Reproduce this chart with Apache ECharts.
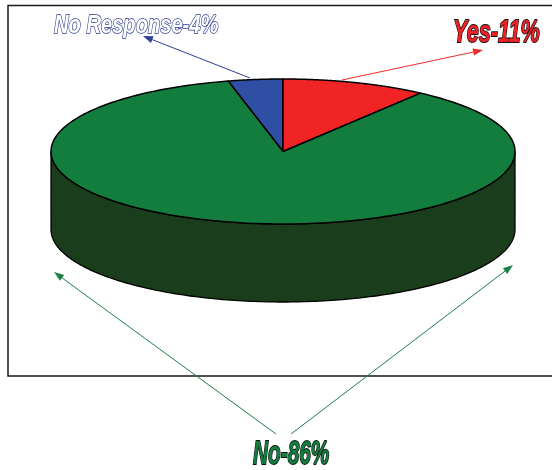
<!DOCTYPE html>
<html><head><meta charset="utf-8">
<style>html,body{margin:0;padding:0;background:#fff}#c{width:552px;height:470px}</style>
<script src="https://cdn.jsdelivr.net/npm/echarts@6/dist/echarts.min.js"></script>
</head><body><div id="c"></div>
<script>
const categories = ['No Response', 'Yes', 'No'];
const sliceShares = [3.8, 10.1, 86.1];
const sliceLabels = ['No Response-4%', 'Yes-11%', 'No-86%'];
const topColors = ['#2e4fa3', '#f12425', '#137d3e'];
const wallColor = '#1a3e1c';

const CX = 283, CY = 151.5, RX = 232, RY = 72.5, DEPTH = 78;
const total = sliceShares.reduce((a, b) => a + b, 0);
const startT = -sliceShares[0] / total * 2 * Math.PI;

function pt(t, dy) { return [CX + RX * Math.sin(t), CY + (dy || 0) - RY * Math.cos(t)]; }

function renderSlice(params, api) {
  const i = params.dataIndex;
  let before = 0;
  for (let k = 0; k < i; k++) before += sliceShares[k];
  const a0 = startT + before / total * 2 * Math.PI;
  const a1 = a0 + api.value(1) / total * 2 * Math.PI;
  const children = [];
  // front wall: the part of this slice with t between 90deg and 270deg
  const f0 = Math.max(a0, Math.PI / 2), f1 = Math.min(a1, 1.5 * Math.PI);
  if (f1 > f0) {
    const w = [];
    for (let n = 0; n <= 180; n++) w.push(pt(f0 + (f1 - f0) * n / 180));
    for (let n = 180; n >= 0; n--) w.push(pt(f0 + (f1 - f0) * n / 180, DEPTH));
    children.push({ type: 'polygon', shape: { points: w },
      style: { fill: wallColor, stroke: '#000', lineWidth: 1.3 } });
  }
  const p = [[CX, CY]];
  for (let n = 0; n <= 240; n++) p.push(pt(a0 + (a1 - a0) * n / 240));
  children.push({ type: 'polygon', shape: { points: p },
    style: { fill: topColors[i], stroke: '#000', lineWidth: 1.5, lineJoin: 'round' } });
  return { type: 'group', children };
}

function arrow(x1, y1, x2, y2, color) {
  const ang = Math.atan2(y2 - y1, x2 - x1), L = 10, W = 3.6;
  const bx = x2 - L * Math.cos(ang), by = y2 - L * Math.sin(ang);
  const nx = -Math.sin(ang) * W, ny = Math.cos(ang) * W;
  return [
    { type: 'line', silent: true, shape: { x1, y1, x2: bx, y2: by }, style: { stroke: color, lineWidth: 1 } },
    { type: 'polygon', silent: true, shape: { points: [[x2, y2], [bx + nx, by + ny], [bx - nx, by - ny]] }, style: { fill: color } }
  ];
}

function label(text, x, y, size, scaleX, fill, stroke, lw) {
  return { type: 'text', silent: true, x, y, scaleX, originX: 0, originY: 0,
    style: { text, x: 0, y: 0, fill, stroke, lineWidth: lw, strokeFirst: true,
      font: 'italic bold ' + size + 'px "Liberation Sans", Arial, sans-serif',
      textAlign: 'left', textVerticalAlign: 'middle' } };
}

const chart = echarts.init(document.getElementById('c'), null, { renderer: 'canvas' });
chart.setOption({
  animation: false,
  backgroundColor: '#ffffff',
  graphic: { elements: [
    { type: 'rect', silent: true, z: -1, shape: { x: 8, y: 5.5, width: 560, height: 370.5 },
      style: { fill: 'none', stroke: '#1a1a1a', lineWidth: 1.5 } },
    ...arrow(250, 78, 143, 36, '#2e3f97'),
    ...arrow(342, 80, 483, 50, '#ee2a2a'),
    ...arrow(276, 434, 54, 272, '#1b8048'),
    ...arrow(291, 434, 513, 265, '#1b8048'),
    label(sliceLabels[0], 54, 25.5, 26, 0.774, '#ffffff', '#2a3a94', 1.5),
    label(sliceLabels[1], 453, 33.5, 32, 0.677, '#ee2226', '#111', 1.8),
    label(sliceLabels[2], 253, 455, 33, 0.63, '#137d3e', '#111', 1.8)
  ] },
  series: [{
    type: 'custom',
    coordinateSystem: 'none',
    renderItem: renderSlice,
    encode: { itemName: 0, value: 1 },
    data: categories.map((c, i) => [c, sliceShares[i]])
  }]
});
</script></body></html>
